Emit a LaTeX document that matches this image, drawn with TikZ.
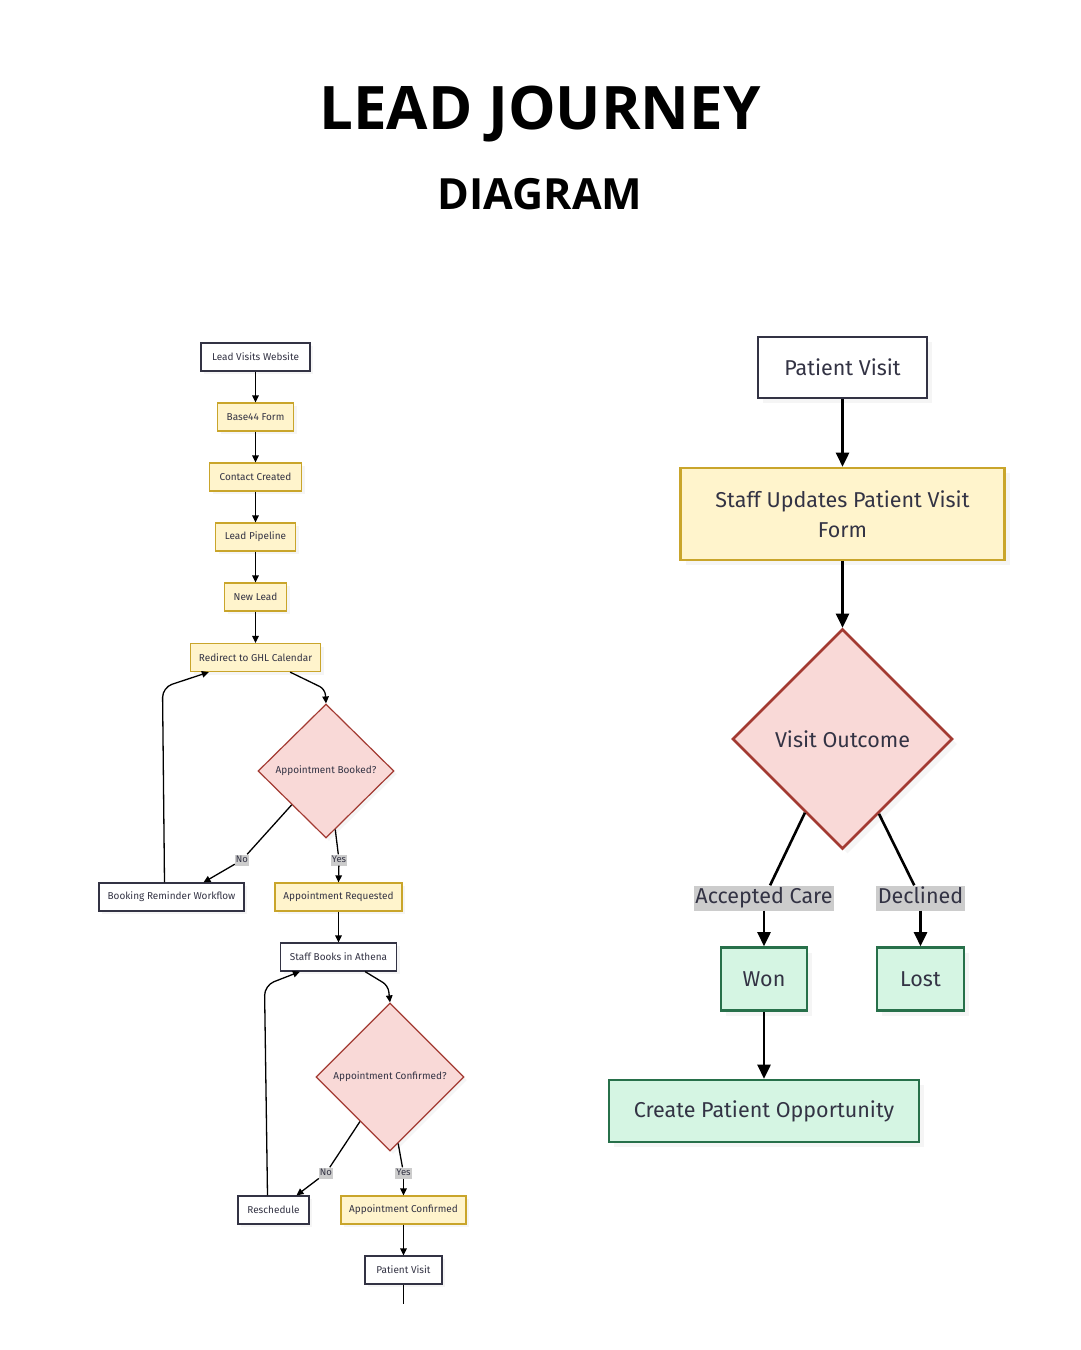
\documentclass[tikz,border=0pt]{standalone}
\usepackage{fontspec}
\setmainfont{Fira Sans}
\newfontfamily\titlefont{Open Sans}
\usetikzlibrary{arrows.meta,shapes.geometric,shadows}

\definecolor{inkdark}{HTML}{333344}
\definecolor{stepfill}{HTML}{FFF4CC}
\definecolor{stepline}{HTML}{C9A52B}
\definecolor{decfill}{HTML}{F9D9D7}
\definecolor{decline}{HTML}{A33A32}
\definecolor{endfill}{HTML}{D5F5E3}
\definecolor{endline}{HTML}{27704A}
\definecolor{lblfill}{HTML}{CCCCCC}

\begin{document}
\begin{tikzpicture}[x=1pt,y=-1pt,
  sbox/.style={draw=inkdark,fill=white,line width=1.2pt,minimum height=28pt,
    inner sep=1pt,text=inkdark,font=\fontsize{10}{11}\selectfont,
    drop shadow={shadow xshift=3pt,shadow yshift=-3pt,opacity=.08}},
  sstep/.style={sbox,draw=stepline,fill=stepfill},
  sdec/.style={sbox,diamond,draw=decline,fill=decfill,aspect=1},
  slbl/.style={fill=lblfill,inner sep=1pt,text height=7pt,text depth=2pt,
    text=inkdark,font=\fontsize{9.5}{10}\selectfont},
  sline/.style={line width=1.3pt},
  sflow/.style={sline,-{Triangle[width=6.5pt,length=7pt]}},
  bbox/.style={draw=inkdark,fill=white,line width=2.6pt,inner sep=2pt,
    text=inkdark,font=\fontsize{21.5}{30}\selectfont,
    drop shadow={shadow xshift=5pt,shadow yshift=-5pt,opacity=.08}},
  bstep/.style={bbox,draw=stepline,fill=stepfill},
  bdec/.style={bbox,diamond,draw=decline,fill=decfill,aspect=1},
  bdone/.style={bbox,draw=endline,fill=endfill},
  blbl/.style={fill=lblfill,inner sep=1.5pt,text height=16pt,text depth=6pt,
    text=inkdark,font=\fontsize{21.5}{24}\selectfont},
  bline/.style={line width=2.6pt},
  bflow/.style={bline,-{Triangle[width=13pt,length=14pt]}}
]
  \useasboundingbox[fill=white] (0,0) rectangle (1080,1350);

  % title
  \node[font=\titlefont\bfseries\fontsize{60}{70}\selectfont] (title) at (540,114) {LEAD JOURNEY};
  \node[font=\titlefont\bfseries\fontsize{43}{52}\selectfont] (subtitle) at (540,194) {DIAGRAM};

  % lead capture and booking
  \node[sbox,minimum width=109] (lvw) at (255.5,357) {Lead Visits Website};
  \node[sstep,minimum width=76] (b44) at (255.5,417) {Base44 Form};
  \node[sstep,minimum width=92] (cc) at (255.5,477) {Contact Created};
  \node[sstep,minimum width=80] (lp) at (255.5,537) {Lead Pipeline};
  \node[sstep,minimum width=62] (nl) at (255.5,597) {New Lead};
  \node[sstep,minimum width=130] (redir) at (255.5,657.5) {Redirect to GHL Calendar};
  \node[sdec,minimum width=136,minimum height=134] (book) at (326,771) {Appointment Booked?};
  \node[sbox,minimum width=145] (brw) at (171.5,897) {Booking Reminder Workflow};
  \node[sstep,minimum width=127] (areq) at (338.5,897) {Appointment Requested};
  \node[sbox,minimum width=116] (sba) at (338.5,957) {Staff Books in Athena};
  \node[sdec,minimum width=148,minimum height=148] (conf) at (390,1077) {Appointment Confirmed?};
  \node[sbox,minimum width=71] (resch) at (273.5,1210) {Reschedule};
  \node[sstep,minimum width=125] (acon) at (403.5,1210) {Appointment Confirmed};
  \node[sbox,minimum width=77] (pv1) at (403.5,1270) {Patient Visit};
  \coordinate (pvout) at (403.5,1304);

  \node[slbl] (no1) at (242,860) {No};
  \node[slbl] (yes1) at (339,860) {Yes};
  \node[slbl] (no2) at (326,1173) {No};
  \node[slbl] (yes2) at (403.5,1173) {Yes};

  \foreach \a/\b in {lvw/b44,b44/cc,cc/lp,lp/nl,nl/redir,areq/sba,acon/pv1}
    \draw[sflow] (\a) -- (\b);
  \draw[sline] (pv1) -- (pvout);

  \draw[sflow,rounded corners=6] ([xshift=-31pt]redir.south east) -- ++(35,17) -- (book.north);
  \draw[sline] (book.south west) -- (no1);
  \draw[sflow] (no1) -- ([xshift=32pt]brw.north);
  \draw[sline] (book.279) -- (yes1);
  \draw[sflow] (yes1) -- (areq.north);
  \draw[sflow,rounded corners=10] ([xshift=-7pt]brw.north) -- ++(-2,-195) -- ([xshift=19pt]redir.south west);

  \draw[sflow,rounded corners=6] ([xshift=-32pt]sba.south east) -- ++(23,14) -- (conf.north);
  \draw[sline] (conf.236) -- (no2);
  \draw[sflow] (no2) -- ([xshift=23pt]resch.north);
  \draw[sline] (conf.277) -- (yes2);
  \draw[sflow] (yes2) -- (acon.north);
  \draw[sflow,rounded corners=10] ([xshift=-6pt]resch.north) -- ++(-3,-210) -- ([xshift=20pt]sba.south west);

  % patient visit outcome
  \node[bbox,minimum width=169,minimum height=61] (pv2) at (842.5,367.5) {Patient Visit};
  \node[bstep,minimum width=324,minimum height=92,align=center] (suf) at (842.5,514)
    {Staff Updates Patient Visit\\Form};
  \node[bdec,minimum width=220,minimum height=220] (vo) at (842.5,739) {Visit Outcome};
  \node[blbl] (acc) at (764,898) {Accepted Care};
  \node[blbl] (dec) at (920.5,898) {Declined};
  \node[bdone,minimum width=86,minimum height=63] (won) at (764,979) {Won};
  \node[bdone,minimum width=87,minimum height=63] (lost) at (920.5,979) {Lost};
  \node[bdone,minimum width=310,minimum height=62] (cpo) at (764,1111) {Create Patient Opportunity};

  \draw[bflow] (pv2) -- (suf);
  \draw[bflow] (suf) -- (vo);
  \draw[bline] (vo.243) -- (acc);
  \draw[bflow] (acc) -- (won);
  \draw[bline] (vo.296) -- (dec);
  \draw[bflow] (dec) -- (lost);
  \draw[bflow] (won) -- (cpo);
\end{tikzpicture}
\end{document}
